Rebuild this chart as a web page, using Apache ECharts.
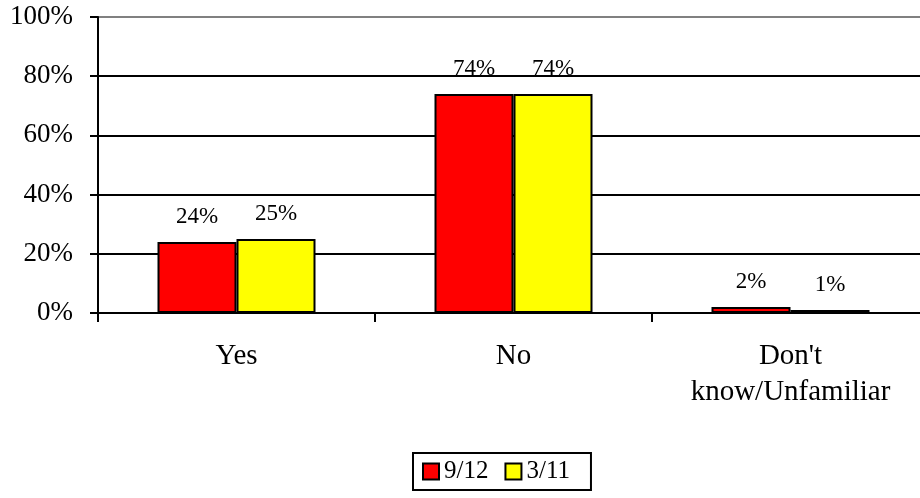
<!DOCTYPE html>
<html>
<head>
<meta charset="utf-8">
<script src="https://cdn.jsdelivr.net/npm/echarts@6/dist/echarts.min.js"></script>
<style>
  html, body { margin: 0; padding: 0; background: #fff; }
  #chart { width: 920px; height: 498px; }
</style>
</head>
<body>
<div id="chart"></div>
<script>
var chart = echarts.init(document.getElementById('chart'));

var categories = ['Yes', 'No', "Don't\nknow/Unfamiliar"];
var seriesNames = ['9/12', '3/11'];
var sep12 = [24, 74, 2];
var mar11 = [25, 74, 1];

var font = 'Liberation Serif, Times New Roman, serif';

function barSeries(name, values, color) {
  return {
    name: name,
    type: 'bar',
    barWidth: 79,
    barGap: 0,
    data: values,
    itemStyle: { color: color, borderColor: '#000', borderWidth: 2 },
    label: {
      show: true,
      position: 'top',
      distance: 14,
      formatter: '{c}%',
      fontFamily: font,
      fontSize: 23,
      color: '#000'
    }
  };
}

var option = {
  animation: false,
  backgroundColor: '#fff',
  grid: {
    left: 98,
    right: -9,
    top: 17,
    bottom: 185,
    outerBoundsMode: 'none'
  },
  legend: {
    data: seriesNames,
    left: 413,
    top: 453,
    orient: 'horizontal',
    icon: 'rect',
    itemWidth: 16,
    itemHeight: 16,
    itemGap: 16,
    padding: [6, 21, 6, 9],
    borderColor: '#000',
    borderWidth: 2,
    textStyle: { fontFamily: font, fontSize: 25, color: '#000' }
  },
  xAxis: {
    type: 'category',
    data: categories,
    axisLine: { lineStyle: { color: '#000', width: 2 } },
    axisTick: { show: true, length: 9, lineStyle: { color: '#000', width: 2 } },
    axisLabel: {
      margin: 25,
      fontFamily: font,
      fontSize: 29,
      lineHeight: 36,
      color: '#000'
    }
  },
  yAxis: {
    type: 'value',
    min: 0,
    max: 100,
    interval: 20,
    axisLine: { show: true, lineStyle: { color: '#000', width: 2 } },
    axisTick: { show: true, length: 8, lineStyle: { color: '#000', width: 2 } },
    axisLabel: {
      formatter: '{value}%',
      margin: 25,
      fontFamily: font,
      fontSize: 27,
      color: '#000'
    },
    splitLine: {
      lineStyle: { color: ['#000', '#000', '#000', '#000', '#000', '#808080'], width: 2 }
    }
  },
  series: [
    barSeries(seriesNames[0], sep12, '#ff0000'),
    barSeries(seriesNames[1], mar11, '#ffff00')
  ]
};

chart.setOption(option);
</script>
</body>
</html>
